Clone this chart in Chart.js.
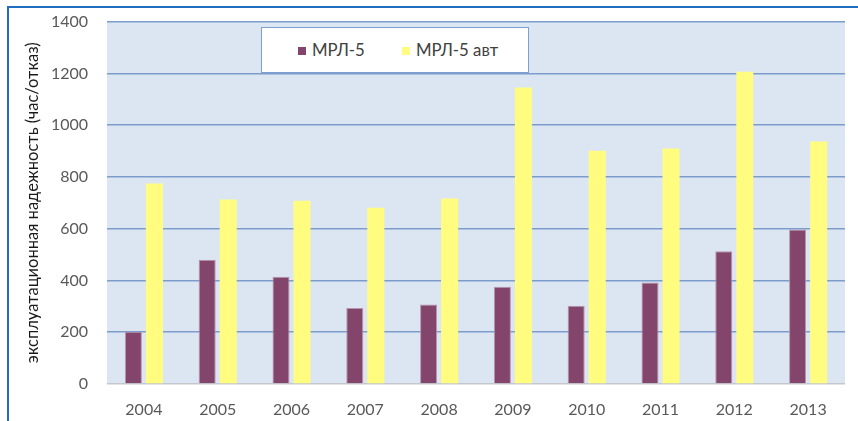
<!DOCTYPE html>
<html>
<head>
<meta charset="utf-8">
<script src="https://cdn.jsdelivr.net/npm/chart.js@4/dist/chart.umd.min.js"></script>
<style>
    html, body { margin: 0; padding: 0; background: #fff; overflow: hidden; }
    #marco {
        position: absolute; left: 7px; top: 6px; width: 851px; height: 415px;
        border-left: 2px solid #1f6fc0; border-top: 2px solid #1f6fc0;
    }
    /* el lienzo sube 7px para compensar el relleno de las etiquetas del eje y */
    #contenedor { position: absolute; left: 0; top: -7px; width: 858px; height: 428px; }
    #leyenda {
        position: absolute; left: 261px; top: 27px; width: 266px; height: 44px;
        background: #fff; border: 1px solid #7f9fcf;
        font-family: Lato, sans-serif; font-size: 16.8px; color: #404040;
    }
    #leyenda span.item { position: absolute; top: 11px; white-space: nowrap; }
    #leyenda span.cuadro { display: inline-block; width: 8px; height: 8px; margin-right: 6px; vertical-align: 1px; }
</style>
</head>
<body>
<div id="marco"></div>
<div id="contenedor"><canvas id="grafico" width="858" height="428"></canvas></div>
<div id="leyenda"></div>
<script>
const anios = ['2004', '2005', '2006', '2007', '2008', '2009', '2010', '2011', '2012', '2013'];
const mrl5 = [202, 480, 414, 294, 307, 376, 302, 392, 513, 597];
const mrl5Avt = [775, 713, 708, 681, 717, 1145, 901, 910, 1206, 937];
const nombresSeries = ['МРЛ-5', 'МРЛ-5 авт'];
const tituloEjeY = 'эксплуатационная надежность (час/отказ)';

const colores = ['#83456c', '#fffc80'];
const fuente = 'Lato, sans-serif';

// fondo azul claro del área de trazado
const fondoArea = {
    id: 'fondoArea',
    beforeDraw(chart) {
        const { ctx, chartArea } = chart;
        ctx.save();
        ctx.fillStyle = '#dce6f2';
        ctx.fillRect(chartArea.left, chartArea.top, chartArea.right - chartArea.left, chartArea.bottom - chartArea.top);
        ctx.restore();
    }
};

const ctx = document.getElementById('grafico').getContext('2d');

new Chart(ctx, {
    type: 'bar',
    data: {
        labels: anios,
        datasets: [
            {
                label: nombresSeries[0],
                data: mrl5,
                backgroundColor: colores[0],
                borderColor: '#b895ad',
                borderWidth: 1,
                borderSkipped: 'bottom',
            },
            {
                label: nombresSeries[1],
                data: mrl5Avt,
                backgroundColor: colores[1],
                borderWidth: 0,
            },
        ],
    },
    options: {
        responsive: false,
        animation: false,
        events: [],
        layout: { padding: { left: 0, right: 13, top: 15, bottom: 0 } },
        datasets: { bar: { categoryPercentage: 0.57, barPercentage: 0.81 } },
        plugins: {
            legend: { display: false },
            tooltip: { enabled: false },
        },
        scales: {
            x: {
                grid: { display: false, drawTicks: false },
                border: { display: false },
                ticks: { color: '#595959', font: { family: fuente, size: 16 }, padding: 16 },
                afterFit(scale) { scale.height = 37; },
            },
            y: {
                min: 0,
                max: 1400,
                ticks: {
                    stepSize: 200,
                    color: '#595959',
                    font: { family: fuente, size: 16 },
                    padding: 19,
                    callback: v => String(v), // sin separador de miles
                },
                grid: {
                    drawTicks: false,
                    lineWidth: 1.5,
                    color: c => (c.index === 0 ? '#c4c8ce' : '#7c9ccb'),
                },
                border: { display: false },
                title: {
                    display: true,
                    text: tituloEjeY,
                    color: '#1a1a1a',
                    font: { family: fuente, size: 16.5 },
                    padding: { top: 23, bottom: 0 },
                },
                afterFit(scale) { scale.width = 107; },
            },
        },
    },
    plugins: [fondoArea],
});

// leyenda dentro del área, como en el original
const leyenda = document.getElementById('leyenda');
const posiciones = [36, 140];
nombresSeries.forEach((nombre, i) => {
    const item = document.createElement('span');
    item.className = 'item';
    item.style.left = posiciones[i] + 'px';
    item.innerHTML = `<span class="cuadro" style="background:${colores[i]}"></span>${nombre}`;
    leyenda.appendChild(item);
});
</script>
</body>
</html>
